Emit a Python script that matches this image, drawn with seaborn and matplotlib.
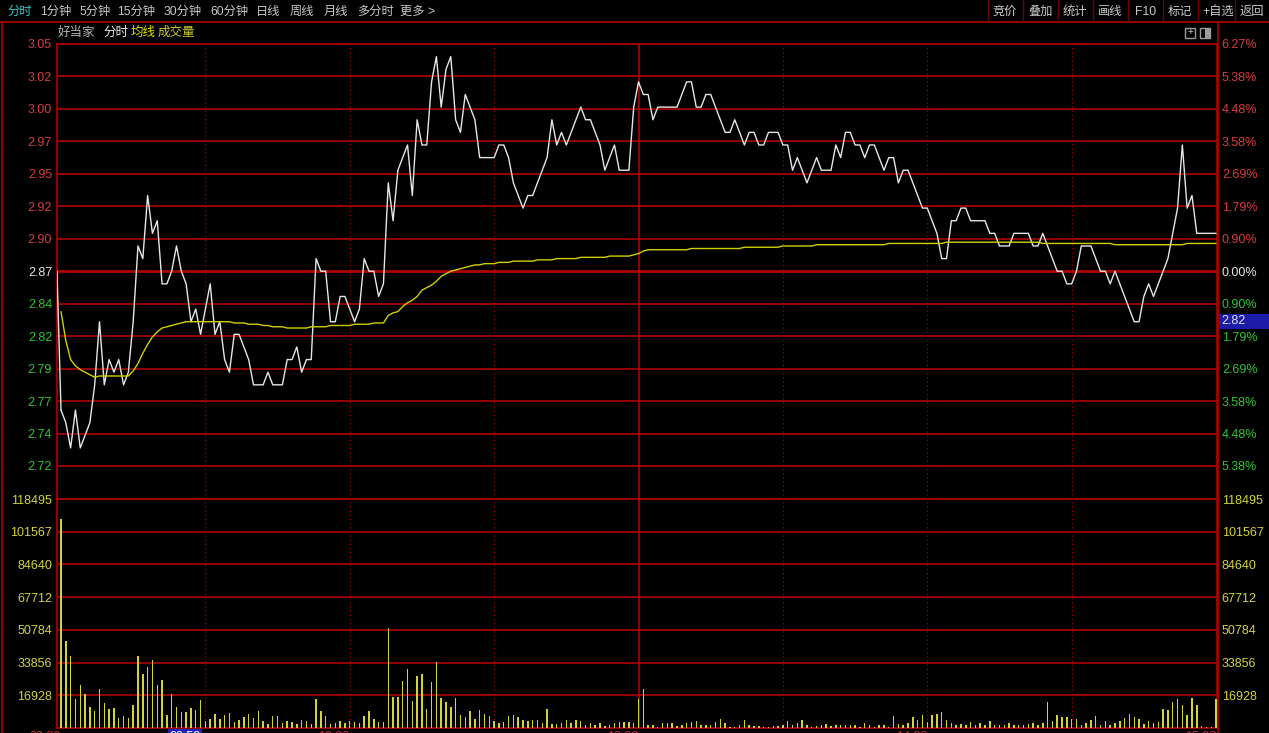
import numpy as np
import pandas as pd
import seaborn as sns
import matplotlib.pyplot as plt
from matplotlib.patches import Rectangle
from matplotlib.lines import Line2D

sns.set_theme(style="dark", rc={"figure.facecolor": "black", "axes.facecolor": "black"})
plt.rcParams['font.family'] = ['Liberation Sans', 'Noto Sans CJK SC', 'DejaVu Sans']

# ---- data (one value per minute, 09:30 .. 15:00) ----
prev_close = 2.87
price_step = 0.0257143   # one grid row = 0.896 %

price = [
    2.76, 2.75, 2.73, 2.76, 2.73, 2.74, 2.75, 2.78, 2.83, 2.78,
    2.80, 2.79, 2.80, 2.78, 2.79, 2.83, 2.89, 2.88, 2.93, 2.90,
    2.91, 2.86, 2.86, 2.87, 2.89, 2.87, 2.86, 2.83, 2.84, 2.82,
    2.84, 2.86, 2.82, 2.83, 2.80, 2.79, 2.82, 2.82, 2.81, 2.80,
    2.78, 2.78, 2.78, 2.79, 2.78, 2.78, 2.78, 2.80, 2.80, 2.81,
    2.79, 2.80, 2.80, 2.88, 2.87, 2.87, 2.83, 2.83, 2.85, 2.85,
    2.84, 2.83, 2.84, 2.88, 2.87, 2.87, 2.85, 2.86, 2.94, 2.91,
    2.95, 2.96, 2.97, 2.93, 2.99, 2.97, 2.97, 3.02, 3.04, 3.00,
    3.03, 3.04, 2.99, 2.98, 3.01, 3.00, 2.99, 2.96, 2.96, 2.96,
    2.96, 2.97, 2.97, 2.96, 2.94, 2.93, 2.92, 2.93, 2.93, 2.94,
    2.95, 2.96, 2.99, 2.97, 2.98, 2.97, 2.98, 2.99, 3.00, 2.99,
    2.99, 2.98, 2.97, 2.95, 2.96, 2.97, 2.95, 2.95, 2.95, 3.00,
    3.02,
    3.01, 3.01, 2.99, 3.00, 3.00, 3.00, 3.00, 3.00, 3.01, 3.02,
    3.02, 3.00, 3.00, 3.01, 3.01, 3.00, 2.99, 2.98, 2.98, 2.99,
    2.98, 2.97, 2.98, 2.98, 2.97, 2.97, 2.98, 2.98, 2.98, 2.97,
    2.97, 2.95, 2.96, 2.95, 2.94, 2.95, 2.96, 2.95, 2.95, 2.95,
    2.97, 2.96, 2.98, 2.98, 2.97, 2.97, 2.96, 2.97, 2.97, 2.96,
    2.95, 2.96, 2.96, 2.94, 2.95, 2.95, 2.94, 2.93, 2.92, 2.92,
    2.91, 2.90, 2.88, 2.88, 2.91, 2.91, 2.92, 2.92, 2.91, 2.91,
    2.91, 2.91, 2.90, 2.90, 2.89, 2.89, 2.89, 2.90, 2.90, 2.90,
    2.90, 2.89, 2.89, 2.90, 2.89, 2.88, 2.87, 2.87, 2.86, 2.86,
    2.87, 2.89, 2.89, 2.89, 2.88, 2.87, 2.87, 2.86, 2.87, 2.86,
    2.85, 2.84, 2.83, 2.83, 2.85, 2.86, 2.85, 2.86, 2.87, 2.88,
    2.90, 2.92, 2.97, 2.92, 2.93, 2.90, 2.90, 2.90, 2.90, 2.90,
]

avg_price = [
    2.838, 2.815, 2.800, 2.795, 2.792, 2.790, 2.788, 2.786, 2.787, 2.787,
    2.787, 2.787, 2.787, 2.787, 2.787, 2.791, 2.797, 2.805, 2.812, 2.818,
    2.822, 2.825, 2.826, 2.827, 2.828, 2.829, 2.830, 2.830, 2.830, 2.830,
    2.830, 2.830, 2.830, 2.830, 2.830, 2.830, 2.829, 2.829, 2.829, 2.828,
    2.828, 2.828, 2.827, 2.827, 2.826, 2.826, 2.826, 2.825, 2.825, 2.825,
    2.825, 2.825, 2.826, 2.826, 2.826, 2.826, 2.827, 2.827, 2.827, 2.827,
    2.827, 2.828, 2.828, 2.828, 2.828, 2.829, 2.829, 2.829, 2.835, 2.837,
    2.838, 2.842, 2.845, 2.847, 2.850, 2.855, 2.857, 2.859, 2.862, 2.866,
    2.868, 2.870, 2.871, 2.872, 2.873, 2.874, 2.875, 2.875, 2.876, 2.876,
    2.876, 2.877, 2.877, 2.877, 2.878, 2.878, 2.878, 2.878, 2.878, 2.879,
    2.879, 2.879, 2.879, 2.880, 2.880, 2.880, 2.880, 2.880, 2.881, 2.881,
    2.881, 2.881, 2.881, 2.881, 2.882, 2.882, 2.882, 2.882, 2.882, 2.883,
    2.884,
    2.886, 2.887, 2.887, 2.887, 2.887, 2.887, 2.887, 2.887, 2.887, 2.887,
    2.888, 2.888, 2.888, 2.888, 2.888, 2.888, 2.888, 2.888, 2.888, 2.888,
    2.888, 2.889, 2.889, 2.889, 2.889, 2.889, 2.889, 2.889, 2.889, 2.890,
    2.890, 2.890, 2.890, 2.890, 2.890, 2.890, 2.891, 2.891, 2.891, 2.891,
    2.891, 2.891, 2.891, 2.891, 2.891, 2.891, 2.891, 2.891, 2.891, 2.891,
    2.891, 2.892, 2.892, 2.892, 2.892, 2.892, 2.892, 2.892, 2.892, 2.892,
    2.892, 2.892, 2.892, 2.893, 2.893, 2.893, 2.893, 2.893, 2.893, 2.893,
    2.893, 2.893, 2.893, 2.893, 2.893, 2.893, 2.893, 2.893, 2.893, 2.893,
    2.893, 2.893, 2.893, 2.892, 2.892, 2.892, 2.892, 2.892, 2.892, 2.892,
    2.892, 2.892, 2.892, 2.892, 2.892, 2.892, 2.892, 2.892, 2.891, 2.891,
    2.891, 2.891, 2.891, 2.891, 2.891, 2.891, 2.891, 2.891, 2.891, 2.891,
    2.891, 2.891, 2.891, 2.892, 2.892, 2.892, 2.892, 2.892, 2.892, 2.892,
]

volume = [
    108000, 45100, 37300, 14900, 22200, 17500, 10900, 8850, 20000, 12850,
    10000, 10250, 5200, 6100, 5200, 11800, 37300, 28000, 31600, 35200,
    22200, 24650, 6600, 17500, 10750, 8300, 8300, 10250, 9200, 14400,
    3500, 4860, 7460, 4500, 6600, 7640, 3100, 4170, 5560, 7300,
    5200, 8700, 3800, 2100, 6100, 6100, 2600, 3500, 2950, 2100,
    4000, 3500, 2100, 14750, 8700, 6400, 2100, 2600, 3500, 2600,
    3500, 2950, 2600, 6400, 8700, 4860, 3100, 3100, 52000, 16000,
    16000, 24300, 30700, 13900, 26700, 27800, 9900, 23800, 34200, 15600,
    13400, 10750, 15300, 6900, 5560, 9000, 4700, 9550, 7460, 6100,
    3800, 2600, 2950, 6400, 6600, 5700, 4340, 3500, 4340, 4340,
    2430, 10000, 2100, 2100, 2430, 4340, 2430, 4340, 3800, 1740,
    2780, 1740, 2780, 1200, 1740, 2430, 3100, 2950, 3100, 2600,
    14750,
    20000, 1400, 1400, 500, 2430, 2600, 2600, 1200, 1740, 2600,
    3100, 3800, 1740, 1400, 1740, 2950, 4860, 2430, 700, 700,
    1740, 4340, 1400, 1200, 1050, 700, 700, 870, 1050, 1740,
    3500, 1400, 2600, 4340, 1400, 700, 1050, 1400, 2100, 1050,
    1400, 1400, 1400, 1400, 1400, 700, 2600, 1740, 700, 1400,
    1400, 700, 6400, 2100, 1740, 2430, 5900, 4340, 6950, 3100,
    6950, 7300, 8150, 4340, 2600, 1740, 2100, 1740, 3100, 1740,
    2430, 1400, 3500, 1740, 1740, 1400, 2430, 1740, 1740, 1400,
    2100, 2430, 1740, 2430, 13400, 3500, 6950, 5560, 5560, 4860,
    4860, 1400, 2430, 4340, 6400, 1400, 3500, 1400, 2430, 3500,
    5200, 7460, 5900, 4860, 2100, 3500, 2430, 3100, 10070, 9550,
    13400, 14750, 11800, 6600, 15600, 11800, 870, 400, 300, 15100,
]

price_labels = ["2.72", "2.74", "2.77", "2.79", "2.82", "2.84", "2.87",
                "2.90", "2.92", "2.95", "2.97", "3.00", "3.02", "3.05"]
pct_labels = ["5.38%", "4.48%", "3.58%", "2.69%", "1.79%", "0.90%", "0.00%",
              "0.90%", "1.79%", "2.69%", "3.58%", "4.48%", "5.38%", "6.27%"]
vol_ticks = [16928, 33856, 50784, 67712, 84640, 101567, 118495]
time_ticks = [0, 29, 60, 120, 180, 240]
time_labels = ["09:30", "09:59", "10:30", "13:00", "14:00", "15:00"]
half_hours = [30, 60, 90, 150, 180, 210]

toolbar_left = ["分时", "1分钟", "5分钟", "15分钟", "30分钟", "60分钟", "日线", "周线", "月线", "多分时", "更多 >"]
toolbar_right = ["竞价", "叠加", "统计", "画线", "F10", "标记", "+自选", "返回"]

minutes = np.arange(len(price))
df = pd.DataFrame({"minute": minutes, "price": price, "avg": avg_price, "volume": volume})

# ---- colours ----
RED = "#b00000"
DOTRED = "#8a0000"
UP = "#d83c3c"
DOWN = "#2fc42f"
FLAT = "#e6e6e6"
YEL = "#d4d23a"

W, H = 1269, 733
fig = plt.figure(figsize=(W / 100, H / 100), dpi=100, facecolor="black")


def box(l, t, r, b):
    return [l / W, 1 - b / H, (r - l) / W, (b - t) / H]


def fx(x):
    return x / W


def fy(y):
    return 1 - y / H


ax = fig.add_axes(box(57, 44, 1217, 499))
axv = fig.add_axes(box(57, 499, 1217, 728))

levels = [prev_close + k * price_step for k in range(-6, 8)]
xlo, xhi = -0.83, 240.2

# ---- grids shared by both panels ----
for a in (ax, axv):
    a.set_facecolor("black")
    for s in a.spines.values():
        s.set_color(RED)
        s.set_linewidth(1.2)
    for m in half_hours:
        a.axvline(m, color=DOTRED, lw=1, ls=(0, (1, 2)), zorder=1)
    a.axvline(120, color=RED, lw=1.2, zorder=1)
ax.spines["bottom"].set_visible(False)

# ---- price panel ----
for lev in levels:
    ax.axhline(lev, color=RED, lw=2.0 if abs(lev - prev_close) < 1e-6 else 1.2, zorder=1)

ax.plot([xlo, 0], [prev_close, price[0]], color=FLAT, lw=1.0, zorder=3)
sns.lineplot(data=df, x="minute", y="price", ax=ax, color=FLAT, lw=1.0, zorder=3)
sns.lineplot(data=df, x="minute", y="avg", ax=ax, color="#d0d000", lw=1.0, zorder=3)

ylo = 3.05 - (499 - 44) / 32.46 * price_step
ax.set_ylim(ylo, 3.05)
ax.set_xlim(xlo, xhi)
ax.set_xticks([])
ax.set_yticks(levels)
ax.set_yticklabels(price_labels)
ax.set_xlabel("")
ax.set_ylabel("")
ax.tick_params(axis="y", length=0, pad=3.5, labelsize=9)
ax.grid(False)

ax2 = ax.twinx()
ax2.set_ylim(ax.get_ylim())
ax2.set_yticks(levels)
ax2.set_yticklabels(pct_labels)
ax2.tick_params(axis="y", length=0, pad=3.5, labelsize=9)
for s in ax2.spines.values():
    s.set_visible(False)
ax2.grid(False)

for lbls in (ax.get_yticklabels(), ax2.get_yticklabels()):
    for lbl, lev in zip(lbls, levels):
        if abs(lev - prev_close) < 1e-6:
            lbl.set_color(FLAT)
        elif lev > prev_close:
            lbl.set_color(UP)
        else:
            lbl.set_color(DOWN)

# ---- volume panel ----
for v in vol_ticks:
    axv.axhline(v, color=RED, lw=1.2, zorder=1)
sns.barplot(data=df, x="minute", y="volume", ax=axv, native_scale=True, color=YEL,
            width=0.3, linewidth=0, errorbar=None, saturation=1, zorder=3)
axv.set_ylim(0, 118495)
axv.set_xlim(xlo, xhi)
axv.set_yticks(vol_ticks)
axv.set_yticklabels([str(v) for v in vol_ticks])
axv.set_xlabel("")
axv.set_ylabel("")
axv.tick_params(axis="y", length=0, pad=3.5, labelsize=9, colors=YEL)
axv.set_xticks(time_ticks)
axv.set_xticklabels(time_labels)
axv.tick_params(axis="x", length=0, pad=2, labelsize=9, colors="#d03030")
for lbl in axv.get_xticklabels():
    lbl.set_ha("right")
axv.get_xticklabels()[1].set_color("white")
axv.get_xticklabels()[1].set_bbox(dict(facecolor="#2424b4", edgecolor="none", pad=1))
axv.grid(False)

axv2 = axv.twinx()
axv2.set_ylim(0, 118495)
axv2.set_yticks(vol_ticks)
axv2.set_yticklabels([str(v) for v in vol_ticks])
axv2.tick_params(axis="y", length=0, pad=3.5, labelsize=9, colors=YEL)
for s in axv2.spines.values():
    s.set_visible(False)
axv2.grid(False)

# ---- frame lines ----
fig.add_artist(Line2D([0, 1], [fy(22), fy(22)], color=RED, lw=1.2))
fig.add_artist(Line2D([fx(2), fx(2)], [fy(22), 0], color=RED, lw=1.2))
fig.add_artist(Line2D([fx(1218), fx(1218)], [fy(22), 0], color=RED, lw=1.2))

# ---- toolbar ----
left_x = [7, 40, 79, 117, 164, 210, 256, 290, 324, 357, 400]
for t, x in zip(toolbar_left, left_x):
    fig.text(fx(x), fy(12), t, color="#35c8c8" if t == "分时" else "#c8c8c8",
             fontsize=8.8, va="center", ha="left")
right_x = [993, 1028, 1063, 1098, 1135, 1168, 1202, 1240]
for t, x in zip(toolbar_right, right_x):
    fig.text(fx(x), fy(12), t, color="#c8c8c8", fontsize=8.8, va="center", ha="left")
for x in [988, 1023, 1058, 1093, 1128, 1163, 1198, 1235]:
    fig.add_artist(Line2D([fx(x), fx(x)], [fy(22), 1], color="#6a0000", lw=1))

# ---- header ----
fig.text(fx(58), fy(33), "好当家", color="#b4b4b4", fontsize=9, va="center")
fig.text(fx(103), fy(33), "分时", color="#e6e6e6", fontsize=9, va="center")
fig.text(fx(131), fy(33), "均线", color="#e0e000", fontsize=9, va="center")
fig.text(fx(158), fy(33), "成交量", color="#c8c832", fontsize=9, va="center")
for x in [1185, 1200]:
    fig.add_artist(Rectangle((fx(x), fy(38)), 10 / W, 10 / H, facecolor="none",
                             edgecolor="#9a9a9a", lw=1))
fig.text(fx(1190), fy(32.5), "+", color="#c8c8c8", fontsize=7, ha="center", va="center")
fig.add_artist(Rectangle((fx(1205), fy(38)), 5 / W, 10 / H, facecolor="#9a9a9a",
                         edgecolor="none"))

# ---- cursor price tag ----
fig.add_artist(Rectangle((fx(1219), fy(329)), 50 / W, 15 / H, facecolor="#1c1ca8",
                         edgecolor="none"))
fig.text(fx(1221), fy(321.5), "2.82", color="#e0e0ff", fontsize=9, va="center")

fig.savefig("out.png", dpi=100, facecolor="black")
